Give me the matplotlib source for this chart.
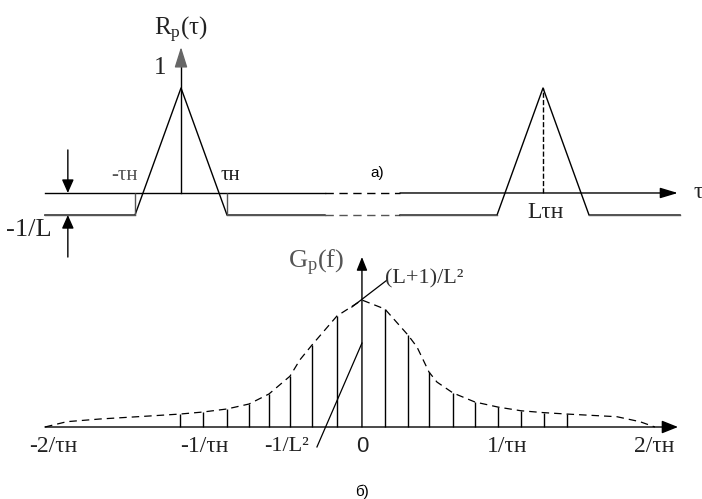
import matplotlib.pyplot as plt

plt.rcParams['font.family'] = ['Liberation Serif', 'DejaVu Serif']
plt.rcParams['mathtext.fontset'] = 'custom'
plt.rcParams['mathtext.rm'] = 'Liberation Serif'
plt.rcParams['mathtext.it'] = 'Liberation Serif:italic'

# а) R(tau), tau в единицах tau_н, ось разорвана между 3.13 и 4.76
R_floor = -0.21                      # уровень -1/L
L_pos = 7.87                         # боковой пик в точке L*tau_н
tau_main = [-2.96, -1.0, 0.0, 1.0, 3.13]
R_main = [R_floor, R_floor, 1.0, R_floor, R_floor]
tau_side = [4.76, 6.87, L_pos, 8.87, 10.85]
R_side = [R_floor, R_floor, 1.0, R_floor, R_floor]
tau_gap = [3.13, 4.76]
tau_axis = [-2.96, 10.8]
R_axis_top = 1.39

# б) G(f), f в единицах 1/tau_н
f_env = [-2.113, -1.967, -1.747, -1.413, -1.213, -1.06, -0.9, -0.753, -0.62,
         -0.48, -0.413, -0.333, -0.167, 0.0, 0.153, 0.307, 0.367, 0.447, 0.5,
         0.607, 0.753, 0.907, 1.06, 1.213, 1.367, 1.7, 1.853, 1.953]
G_env = [0.0, 0.042, 0.063, 0.087, 0.102, 0.118, 0.142, 0.181, 0.26,
         0.40, 0.53, 0.646, 0.874, 1.0, 0.929, 0.724, 0.63, 0.433, 0.354,
         0.268, 0.197, 0.157, 0.128, 0.113, 0.102, 0.081, 0.042, 0.0]
f_lines = [-1.213, -1.06, -0.9, -0.753, -0.62, -0.48, -0.333, -0.167,
           0.153, 0.307, 0.447, 0.607, 0.753, 0.907, 1.06, 1.213, 1.367]
G_lines = [0.102, 0.118, 0.142, 0.181, 0.26, 0.40, 0.646, 0.874,
           0.929, 0.724, 0.433, 0.268, 0.197, 0.157, 0.128, 0.113, 0.102]
f_axis = [-2.113, 2.107]
G_axis_top = 1.339
f_ticks = [-2.06, -1.05, -0.5, 0.0, 0.97, 1.95]
f_labels = ['-2/τн', '-1/τн', '-1/L²', '0', '1/τн', '2/τн']

fig = plt.figure(figsize=(7.02, 4.99), dpi=100)
ax1 = fig.add_axes([0, 0.479, 1, 0.521])
ax1.set_xlim(-3.935, 11.326)
ax1.set_ylim(-0.638, 1.838)
ax1.axis('off')

ax2 = fig.add_axes([0, 0, 1, 0.499])
ax2.set_xlim(-2.413, 2.267)
ax2.set_ylim(-0.567, 1.394)
ax2.axis('off')

lw = 1.0
dash = (0, (6, 4))


def arrow(ax, start, tip, color='k', hl=0.6, hw=0.18, ms=18):
    ax.annotate('', xy=tip, xytext=start,
                arrowprops=dict(arrowstyle=f'-|>,head_length={hl},head_width={hw}',
                                color=color, lw=lw, shrinkA=0, shrinkB=0,
                                mutation_scale=ms))


# ---- а) ----
# ось tau с разрывом
ax1.plot([tau_axis[0], tau_gap[0]], [0, 0], color='k', lw=lw)
ax1.plot(tau_gap, [0, 0], color='k', lw=lw, ls=dash)
arrow(ax1, (tau_gap[1], 0), (tau_axis[1], 0))
# R(tau)
ax1.plot(tau_main, R_main, color='k', lw=lw)
ax1.plot(tau_gap, [R_floor, R_floor], color='#555555', lw=lw, ls=dash)
ax1.plot(tau_side, R_side, color='k', lw=lw)
ax1.plot([tau_main[0], -1.0], [R_floor, R_floor], color='#555555', lw=lw)
ax1.plot([1.0, tau_gap[0]], [R_floor, R_floor], color='#555555', lw=lw)
ax1.plot([tau_side[0], tau_side[1]], [R_floor, R_floor], color='#555555', lw=lw)
ax1.plot([tau_side[3], tau_side[4]], [R_floor, R_floor], color='#555555', lw=lw)
ax1.vlines([-1.0, 1.0], R_floor, 0, color='#555555', lw=lw)
ax1.vlines(L_pos, 0, 1.0, color='k', lw=lw, linestyles='dashed')
# вертикальная ось
ax1.plot([0, 0], [0, 1.25], color='k', lw=lw)
arrow(ax1, (0, 1.25), (0, R_axis_top), color='#666666', hl=0.7, hw=0.22, ms=18)
# размер -1/L
arrow(ax1, (-2.46, 0.41), (-2.46, 0), hl=0.45, hw=0.2, ms=18)
arrow(ax1, (-2.46, -0.61), (-2.46, R_floor), hl=0.45, hw=0.2, ms=18)

ax1.text(0, 1.55, '$\\mathrm{R_p(τ)}$', fontsize=18, ha='center', va='center', color='#222222')
ax1.text(-0.46, 1.19, '1', fontsize=18, ha='center', va='center', color='#222222')
ax1.text(-1.22, 0.17, '-τн', fontsize=15, ha='center', va='center', color='#555555')
ax1.text(1.07, 0.17, 'τн', fontsize=15, ha='center', va='center', color='#222222')
ax1.text(4.26, 0.19, 'a)', fontsize=11, ha='center', va='center', family='Liberation Sans')
ax1.text(L_pos + 0.05, -0.19, 'Lτн', fontsize=17, ha='center', va='center', color='#222222')
ax1.text(-3.3, -0.35, '-1/L', fontsize=19, ha='center', va='center', color='#222222')
ax1.text(11.15, 0, 'τ', fontsize=17, ha='left', va='center', color='#222222')

# ---- б) ----
arrow(ax2, (f_axis[0], 0), (f_axis[1], 0), hl=0.55, hw=0.22, ms=18)
arrow(ax2, (0, 0), (0, G_axis_top), hl=0.45, hw=0.18, ms=18)
ax2.vlines(f_lines, 0, G_lines, color='k', lw=lw)
ax2.plot(f_env, G_env, color='k', lw=0.9, ls=dash)

# выноски
ax2.plot([0.167, -0.067], [1.157, 0.945], color='k', lw=0.9)
ax2.plot([-0.3, 0.0], [-0.157, 0.661], color='k', lw=0.9)

ax2.text(-0.307, 1.29, '$\\mathrm{G_p(f)}$', fontsize=19, ha='center', va='center', color='#555555')
ax2.text(0.155, 1.17, '(L+1)/L²', fontsize=16, ha='left', va='center', color='#333333')
for f, lbl in zip(f_ticks, f_labels):
    fam = 'Liberation Sans' if lbl == '0' else 'Liberation Serif'
    ax2.text(f, -0.157, lbl, fontsize=16 if lbl in ('0', '-1/L²') else 17,
             ha='center', va='center', color='#222222', family=fam)
ax2.text(0, -0.512, 'б)', fontsize=11, ha='center', va='center', family='Liberation Sans')

fig.savefig('out.png', dpi=100)
